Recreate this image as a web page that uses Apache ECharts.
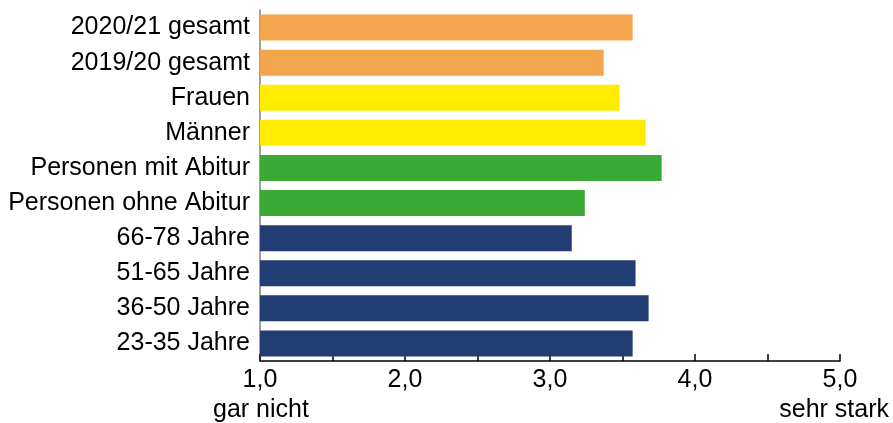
<!DOCTYPE html>
<html>
<head>
<meta charset="utf-8">
<script src="https://cdn.jsdelivr.net/npm/echarts@6/dist/echarts.min.js"></script>
<style>
html,body{margin:0;padding:0;background:#fff;}
#chart{width:893px;height:423px;}
</style>
</head>
<body>
<div id="chart"></div>
<script>
const categories = ['2020/21 gesamt','2019/20 gesamt','Frauen','Männer','Personen mit Abitur','Personen ohne Abitur','66-78 Jahre','51-65 Jahre','36-50 Jahre','23-35 Jahre'];
const values = [3.57, 3.37, 3.48, 3.66, 3.77, 3.24, 3.15, 3.59, 3.68, 3.57];
const barColors = ['#F2A54C','#F2A54C','#FFEC00','#FFEC00','#3AAA35','#3AAA35','#223D73','#223D73','#223D73','#223D73'];
const scaleEndLabels = ['gar nicht','sehr stark'];

const chart = echarts.init(document.getElementById('chart'));
const FONT = 'Liberation Sans';
chart.setOption({
  animation: false,
  grid: {left: 260, right: 53, top: 10, bottom: 62, containLabel: false},
  xAxis: {
    type: 'value', min: 1, max: 5, interval: 0.5,
    axisLine: {show: true, lineStyle: {color: '#000', width: 1.5}},
    axisTick: {show: true, inside: true, length: 7, lineStyle: {color: '#000', width: 1.5}},
    splitLine: {show: false},
    axisLabel: {
      color: '#000', fontFamily: FONT, fontSize: 25, margin: 7,
      formatter: v => (Math.abs(v - Math.round(v)) < 1e-9) ? v.toFixed(1).replace('.', ',') : ''
    }
  },
  yAxis: {
    type: 'category', data: categories, inverse: true,
    axisLine: {show: true, lineStyle: {color: '#7f7f7f', width: 1.5}},
    axisTick: {show: false},
    axisLabel: {color: '#000', fontFamily: FONT, fontSize: 25, margin: 10}
  },
  series: [{
    type: 'bar',
    barWidth: 26,
    data: values.map((v, i) => ({value: v, itemStyle: {color: barColors[i]}}))
  }],
  graphic: [
    {type: 'text', left: 213, top: 398, style: {text: scaleEndLabels[0], font: '25px "Liberation Sans"', fill: '#000'}},
    {type: 'text', right: 4, top: 398, style: {text: scaleEndLabels[1], font: '25px "Liberation Sans"', fill: '#000'}}
  ]
});
</script>
</body>
</html>
